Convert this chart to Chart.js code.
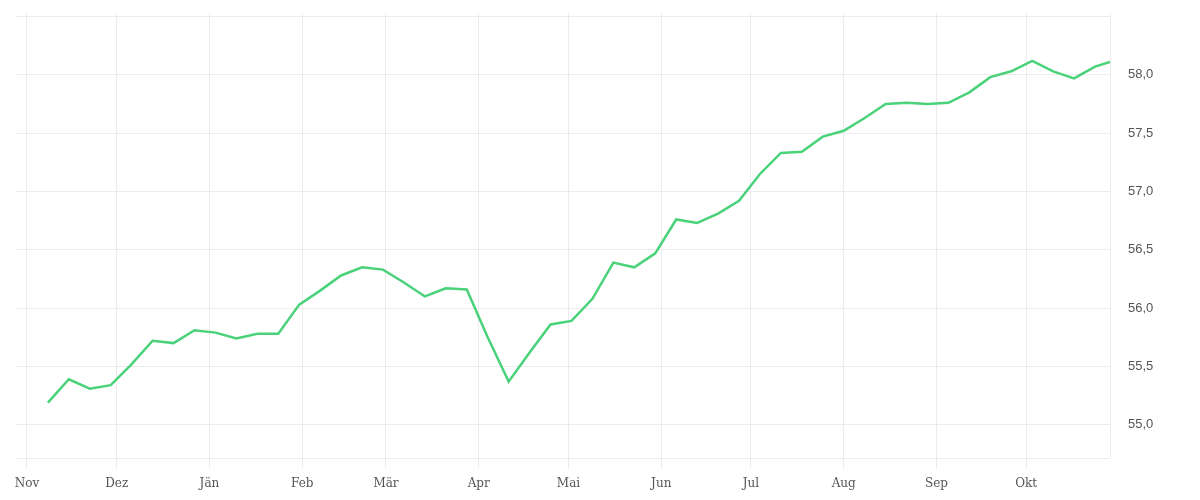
<!DOCTYPE html>
<html>
<head>
<meta charset="utf-8">
<title>Chart</title>
<script src="https://cdn.jsdelivr.net/npm/chart.js@4.4.1/dist/chart.umd.min.js"></script>
<style>
  html, body { margin: 0; padding: 0; background: #fff; }
  #chart { display: block; }
</style>
</head>
<body>
<canvas id="chart" width="1200" height="500"></canvas>
<script>
// weekly readings
const weekDates = [
  '2024-11-08', '2024-11-15', '2024-11-22', '2024-11-29', '2024-12-06', '2024-12-13',
  '2024-12-20', '2024-12-27', '2025-01-03', '2025-01-10', '2025-01-17', '2025-01-24',
  '2025-01-31', '2025-02-07', '2025-02-14', '2025-02-21', '2025-02-28', '2025-03-07',
  '2025-03-14', '2025-03-21', '2025-03-28', '2025-04-04', '2025-04-11', '2025-04-18',
  '2025-04-25', '2025-05-02', '2025-05-09', '2025-05-16', '2025-05-23', '2025-05-30',
  '2025-06-06', '2025-06-13', '2025-06-20', '2025-06-27', '2025-07-04', '2025-07-11',
  '2025-07-18', '2025-07-25', '2025-08-01', '2025-08-08', '2025-08-15', '2025-08-22',
  '2025-08-29', '2025-09-05', '2025-09-12', '2025-09-19', '2025-09-26', '2025-10-03',
  '2025-10-10', '2025-10-17', '2025-10-24', '2025-10-29'
];
const values = [
  55.19, 55.39, 55.31, 55.34, 55.52, 55.72,
  55.70, 55.81, 55.79, 55.74, 55.78, 55.78,
  56.03, 56.15, 56.28, 56.35, 56.33, 56.22,
  56.10, 56.17, 56.16, 55.75, 55.37, 55.62,
  55.86, 55.89, 56.08, 56.39, 56.35, 56.47,
  56.76, 56.73, 56.81, 56.92, 57.15, 57.33,
  57.34, 57.47, 57.52, 57.63, 57.75, 57.76,
  57.75, 57.76, 57.85, 57.98, 58.03, 58.12,
  58.03, 57.97, 58.07, 58.11
];

const monthStarts = [
  '2024-11-01', '2024-12-01', '2025-01-01', '2025-02-01', '2025-03-01', '2025-04-01',
  '2025-05-01', '2025-06-01', '2025-07-01', '2025-08-01', '2025-09-01', '2025-10-01'
];
const monthLabels = ['Nov', 'Dez', 'Jän', 'Feb', 'Mär', 'Apr', 'Mai', 'Jun', 'Jul', 'Aug', 'Sep', 'Okt'];
const yTicks = [55, 55.5, 56, 56.5, 57, 57.5, 58, 58.5];
const xRange = ['2024-10-28', '2025-10-29'];
const yRange = [54.71, 58.53];

const day = s => Date.parse(s + 'T00:00:00Z');
const gridColor = '#ececec';

new Chart(document.getElementById('chart'), {
  type: 'line',
  data: {
    datasets: [{
      data: weekDates.map((d, i) => ({ x: day(d), y: values[i] })),
      borderColor: '#4ad27a',
      borderWidth: 2.5,
      pointRadius: 0,
      tension: 0,
      fill: false
    }]
  },
  options: {
    responsive: false,
    animation: false,
    devicePixelRatio: 1,
    layout: { padding: { top: 13, left: 15, right: 0, bottom: 1 } },
    plugins: {
      legend: { display: false },
      tooltip: { enabled: false }
    },
    scales: {
      x: {
        type: 'linear',
        min: day(xRange[0]),
        max: day(xRange[1]),
        afterBuildTicks: axis => {
          axis.ticks = monthStarts.map(s => ({ value: day(s) }));
        },
        grid: { color: gridColor, tickLength: 10, drawTicks: true },
        border: { display: true, color: gridColor },
        ticks: {
          autoSkip: false,
          maxRotation: 0,
          padding: 8,
          color: '#555',
          font: { family: "'DejaVu Serif', serif", size: 12 },
          callback: (value, index) => monthLabels[index]
        }
      },
      y: {
        position: 'right',
        min: yRange[0],
        max: yRange[1],
        afterBuildTicks: axis => {
          axis.ticks = yTicks.map(v => ({ value: v }));
        },
        afterFit: axis => { axis.width = 90; },
        // invisible tick marks just push the labels off the plot
        grid: { color: gridColor, drawTicks: true, tickLength: 15, tickColor: 'rgba(0,0,0,0)' },
        border: { display: true, color: gridColor },
        ticks: {
          padding: 3,
          color: '#555',
          font: { family: "'Liberation Sans', Arial, sans-serif", size: 13 },
          callback: v => (v > 58.25 ? '' : v.toFixed(1).replace('.', ','))
        }
      }
    }
  }
});
</script>
</body>
</html>
